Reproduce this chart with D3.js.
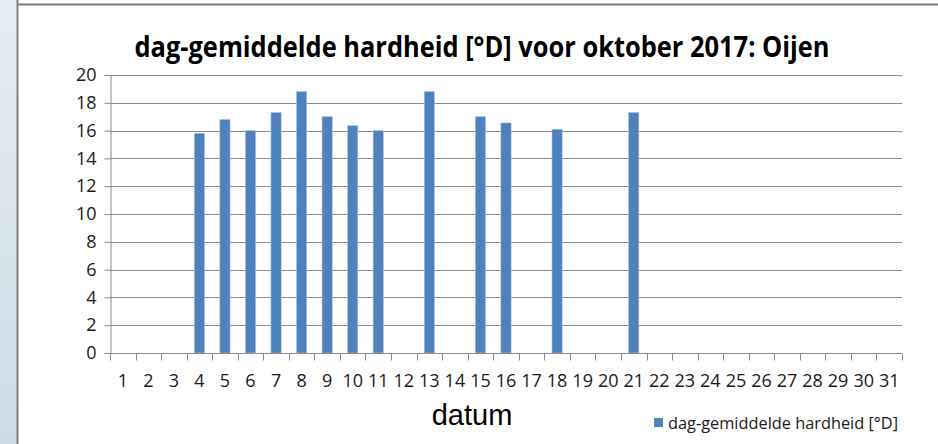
<!DOCTYPE html>
<html>
<head>
<meta charset="utf-8">
<script src="https://cdn.jsdelivr.net/npm/d3@7"></script>
<style>
  body { margin: 0; background: #fff; }
  svg { display: block; }
</style>
</head>
<body>
<div id="chart"></div>
<script>
// data
var days = d3.range(1, 32).map(String);
var hardness = [
  null, null, null, 15.8, 16.8, 16.0, 17.3, 18.8, 17.0, 16.35,
  16.0, null, 18.8, null, 17.0, 16.55, null, 16.1, null, null,
  17.3, null, null, null, null, null, null, null, null, null, null
];
var yTicks = [0, 2, 4, 6, 8, 10, 12, 14, 16, 18, 20];

var title = "dag-gemiddelde hardheid [°D] voor oktober 2017: Oijen",
    seriesName = "dag-gemiddelde hardheid [°D]",
    xTitle = "datum";

var width = 938, height = 444;
var margin = {left: 110, right: 36, top: 75, bottom: 91};

var svg = d3.select("#chart").append("svg")
    .attr("width", width)
    .attr("height", height);

// window frame on the left / top
var grad = svg.append("defs").append("linearGradient")
    .attr("id", "strip").attr("x1", 0).attr("y1", 0).attr("x2", 0).attr("y2", 1);
grad.append("stop").attr("offset", "0%").attr("stop-color", "#e6edf3");
grad.append("stop").attr("offset", "100%").attr("stop-color", "#ccdce6");
svg.append("rect").attr("x", 0).attr("y", 0).attr("width", 17).attr("height", height)
    .attr("fill", "url(#strip)");
svg.append("line").attr("x1", 17.5).attr("x2", 17.5).attr("y1", 0).attr("y2", height)
    .attr("stroke", "#808080").attr("stroke-width", 2);
svg.append("line").attr("x1", 18).attr("x2", width).attr("y1", 4.5).attr("y2", 4.5)
    .attr("stroke", "#808080").attr("stroke-width", 2);

var x = d3.scaleBand()
    .domain(days)
    .range([margin.left, width - margin.right])
    .paddingInner(0.6)
    .paddingOuter(0.3);

var xEdge = d3.scaleLinear()
    .domain([0, days.length])
    .range([margin.left, width - margin.right]);

var y = d3.scaleLinear()
    .domain([0, 20])
    .range([height - margin.bottom, margin.top]);

// gridlines
svg.append("g")
    .selectAll("line")
    .data(yTicks.slice(1))
    .enter().append("line")
      .attr("x1", margin.left)
      .attr("x2", width - margin.right)
      .attr("y1", function(d) { return Math.round(y(d)) + 0.5; })
      .attr("y2", function(d) { return Math.round(y(d)) + 0.5; })
      .attr("stroke", "#8c8c8c")
      .attr("stroke-width", 1);

// bars
svg.append("g")
    .selectAll("rect")
    .data(days.map(function(d, i) { return {day: d, v: hardness[i]}; })
      .filter(function(d) { return d.v != null; }))
    .enter().append("rect")
      .attr("x", function(d) { return x(d.day); })
      .attr("width", x.bandwidth())
      .attr("y", function(d) { return y(d.v); })
      .attr("height", function(d) { return y(0) - y(d.v); })
      .attr("fill", "#4f81bd")
      .attr("stroke", "#a9c1e0")
      .attr("stroke-width", 0.6);

// y axis
var yAxis = svg.append("g")
    .attr("transform", "translate(" + (margin.left + 0.5) + ",0)")
    .call(d3.axisLeft(y).tickValues(yTicks).tickSize(6).tickPadding(8));
yAxis.select(".domain").attr("stroke", "#8c8c8c");
yAxis.selectAll(".tick line").attr("stroke", "#8c8c8c");
yAxis.selectAll(".tick text")
    .attr("fill", "#1a1a1a")
    .style("font", "18px 'Open Sans', sans-serif");

// x axis: ticks sit between categories
var xAxis = svg.append("g")
    .attr("transform", "translate(0," + (Math.round(y(0)) + 0.5) + ")");
xAxis.append("line")
    .attr("x1", margin.left).attr("x2", width - margin.right)
    .attr("stroke", "#8c8c8c");
xAxis.selectAll(".edge")
    .data(d3.range(0, days.length + 1))
    .enter().append("line")
      .attr("class", "edge")
      .attr("x1", function(d) { return Math.round(xEdge(d)) + 0.5; })
      .attr("x2", function(d) { return Math.round(xEdge(d)) + 0.5; })
      .attr("y1", 0).attr("y2", 7)
      .attr("stroke", "#8c8c8c");
xAxis.selectAll(".lbl")
    .data(days)
    .enter().append("text")
      .attr("class", "lbl")
      .attr("x", function(d) { return x(d) + x.bandwidth() / 2; })
      .attr("y", 33)
      .attr("text-anchor", "middle")
      .attr("fill", "#1a1a1a")
      .style("font", "18px 'Open Sans', sans-serif")
      .text(function(d) { return d; });

// title
svg.append("text")
    .attr("x", 482)
    .attr("y", 57)
    .attr("text-anchor", "middle")
    .attr("textLength", 695)
    .attr("lengthAdjust", "spacingAndGlyphs")
    .style("font", "bold 28px 'Open Sans', sans-serif")
    .attr("fill", "#000")
    .text(title);

// axis title
svg.append("text")
    .attr("x", 472)
    .attr("y", 425)
    .attr("text-anchor", "middle")
    .style("font", "29px 'Liberation Sans', Arial, sans-serif")
    .attr("fill", "#000")
    .text(xTitle);

// legend
var legend = svg.append("g").attr("transform", "translate(654,418)");
legend.append("rect")
    .attr("width", 9).attr("height", 9)
    .attr("fill", "#4f81bd");
legend.append("text")
    .attr("x", 14)
    .attr("y", 11)
    .attr("textLength", 230)
    .attr("lengthAdjust", "spacingAndGlyphs")
    .style("font", "17px 'Open Sans', sans-serif")
    .attr("fill", "#1a1a1a")
    .text(seriesName);
</script>
</body>
</html>
